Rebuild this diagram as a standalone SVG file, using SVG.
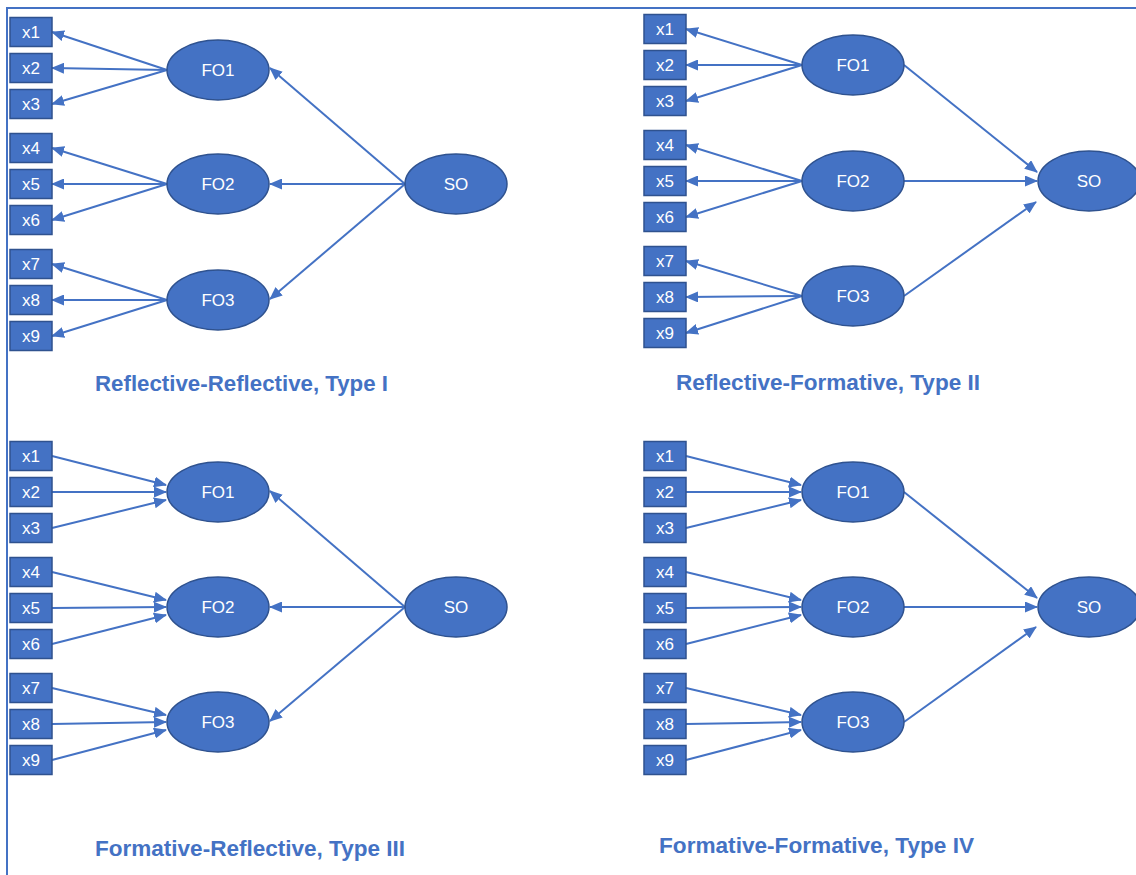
<svg xmlns="http://www.w3.org/2000/svg" width="1136" height="875" viewBox="0 0 1136 875">
  <style>
    .ind { fill: #4472C4; stroke: #2F528F; stroke-width: 1.5; }
    .lat { fill: #4472C4; stroke: #2F528F; stroke-width: 1.5; }
    .lbl { font-family: "Liberation Sans", Arial, sans-serif; font-size: 17px; fill: #FFFFFF; text-anchor: middle; }
    .conn line { stroke: #4472C4; stroke-width: 2; marker-end: url(#arr); }
    .title { font-family: "Liberation Sans", Arial, sans-serif; font-weight: bold; font-size: 22.5px; fill: #4472C4; }
    .frame { stroke: #4472C4; stroke-width: 2; fill: none; }
  </style>
  <defs>
    <marker id="arr" markerUnits="userSpaceOnUse" markerWidth="13" markerHeight="11" viewBox="0 0 13 11" refX="12" refY="5.5" orient="auto">
      <path d="M0,0 L13,5.5 L0,11 z" fill="#4472C4"/>
    </marker>
  </defs>
  <rect width="1136" height="875" fill="#FFFFFF"/>
  <!-- outer frame: top and left edges -->
  <polyline class="frame" points="7,875 7,8 1136,8"/>

  <!-- ===== Connectors ===== -->
  <g id="connectors" class="conn">
    <!-- Type I: FO -> indicators -->
    <line x1="167" y1="70" x2="52" y2="32"/>
    <line x1="167" y1="70" x2="52" y2="68"/>
    <line x1="167" y1="70" x2="52" y2="104"/>
    <line x1="167" y1="184" x2="52" y2="148"/>
    <line x1="167" y1="184" x2="52" y2="184"/>
    <line x1="167" y1="184" x2="52" y2="220"/>
    <line x1="167" y1="300" x2="52" y2="264"/>
    <line x1="167" y1="300" x2="52" y2="300"/>
    <line x1="167" y1="300" x2="52" y2="336"/>
    <!-- Type I: SO -> FO -->
    <line x1="405" y1="184" x2="270" y2="68"/>
    <line x1="405" y1="184" x2="270" y2="184"/>
    <line x1="405" y1="184" x2="270" y2="299"/>

    <!-- Type II: FO -> indicators -->
    <line x1="802" y1="65" x2="686" y2="29"/>
    <line x1="802" y1="65" x2="686" y2="65"/>
    <line x1="802" y1="65" x2="686" y2="101"/>
    <line x1="802" y1="181" x2="686" y2="145"/>
    <line x1="802" y1="181" x2="686" y2="181"/>
    <line x1="802" y1="181" x2="686" y2="217"/>
    <line x1="802" y1="296" x2="686" y2="261"/>
    <line x1="802" y1="296" x2="686" y2="297"/>
    <line x1="802" y1="296" x2="686" y2="333"/>
    <!-- Type II: FO -> SO -->
    <line x1="904" y1="65" x2="1037" y2="172"/>
    <line x1="904" y1="181" x2="1037" y2="181"/>
    <line x1="904" y1="296" x2="1036" y2="202"/>

    <!-- Type III: indicators -> FO -->
    <line x1="52" y1="456" x2="166" y2="485"/>
    <line x1="52" y1="492" x2="166" y2="492"/>
    <line x1="52" y1="528" x2="166" y2="500"/>
    <line x1="52" y1="572" x2="166" y2="600"/>
    <line x1="52" y1="608" x2="166" y2="607"/>
    <line x1="52" y1="644" x2="166" y2="615"/>
    <line x1="52" y1="688" x2="166" y2="715"/>
    <line x1="52" y1="724" x2="166" y2="722"/>
    <line x1="52" y1="760" x2="166" y2="730"/>
    <!-- Type III: SO -> FO -->
    <line x1="405" y1="607" x2="270" y2="491"/>
    <line x1="405" y1="607" x2="270" y2="607"/>
    <line x1="405" y1="607" x2="270" y2="721"/>

    <!-- Type IV: indicators -> FO -->
    <line x1="686" y1="456" x2="801" y2="485"/>
    <line x1="686" y1="492" x2="801" y2="492"/>
    <line x1="686" y1="528" x2="801" y2="500"/>
    <line x1="686" y1="572" x2="801" y2="600"/>
    <line x1="686" y1="608" x2="801" y2="607"/>
    <line x1="686" y1="644" x2="801" y2="615"/>
    <line x1="686" y1="688" x2="801" y2="715"/>
    <line x1="686" y1="724" x2="801" y2="722"/>
    <line x1="686" y1="760" x2="801" y2="730"/>
    <!-- Type IV: FO -> SO -->
    <line x1="904" y1="492" x2="1037" y2="598"/>
    <line x1="904" y1="607" x2="1037" y2="607"/>
    <line x1="904" y1="722" x2="1036" y2="627"/>
  </g>

  <!-- ===== Type I nodes ===== -->
  <g id="t1-x1"><rect class="ind" x="10" y="17.5" width="42" height="29"/><text class="lbl" x="31" y="38">x1</text></g>
  <g id="t1-x2"><rect class="ind" x="10" y="53.5" width="42" height="29"/><text class="lbl" x="31" y="74">x2</text></g>
  <g id="t1-x3"><rect class="ind" x="10" y="89.5" width="42" height="29"/><text class="lbl" x="31" y="110">x3</text></g>
  <g id="t1-x4"><rect class="ind" x="10" y="133.5" width="42" height="29"/><text class="lbl" x="31" y="154">x4</text></g>
  <g id="t1-x5"><rect class="ind" x="10" y="169.5" width="42" height="29"/><text class="lbl" x="31" y="190">x5</text></g>
  <g id="t1-x6"><rect class="ind" x="10" y="205.5" width="42" height="29"/><text class="lbl" x="31" y="226">x6</text></g>
  <g id="t1-x7"><rect class="ind" x="10" y="249.5" width="42" height="29"/><text class="lbl" x="31" y="270">x7</text></g>
  <g id="t1-x8"><rect class="ind" x="10" y="285.5" width="42" height="29"/><text class="lbl" x="31" y="306">x8</text></g>
  <g id="t1-x9"><rect class="ind" x="10" y="321.5" width="42" height="29"/><text class="lbl" x="31" y="342">x9</text></g>
  <g id="t1-fo1"><ellipse class="lat" cx="218" cy="70" rx="51" ry="30"/><text class="lbl" x="218" y="76">FO1</text></g>
  <g id="t1-fo2"><ellipse class="lat" cx="218" cy="184" rx="51" ry="30"/><text class="lbl" x="218" y="190">FO2</text></g>
  <g id="t1-fo3"><ellipse class="lat" cx="218" cy="300" rx="51" ry="30"/><text class="lbl" x="218" y="306">FO3</text></g>
  <g id="t1-so"><ellipse class="lat" cx="456" cy="184" rx="51" ry="30"/><text class="lbl" x="456" y="190">SO</text></g>
  <text class="title" x="95" y="391" textLength="293" lengthAdjust="spacingAndGlyphs">Reflective-Reflective, Type I</text>

  <!-- ===== Type II nodes ===== -->
  <g id="t2-x1"><rect class="ind" x="644" y="14.5" width="42" height="29"/><text class="lbl" x="665" y="35">x1</text></g>
  <g id="t2-x2"><rect class="ind" x="644" y="50.5" width="42" height="29"/><text class="lbl" x="665" y="71">x2</text></g>
  <g id="t2-x3"><rect class="ind" x="644" y="86.5" width="42" height="29"/><text class="lbl" x="665" y="107">x3</text></g>
  <g id="t2-x4"><rect class="ind" x="644" y="130.5" width="42" height="29"/><text class="lbl" x="665" y="151">x4</text></g>
  <g id="t2-x5"><rect class="ind" x="644" y="166.5" width="42" height="29"/><text class="lbl" x="665" y="187">x5</text></g>
  <g id="t2-x6"><rect class="ind" x="644" y="202.5" width="42" height="29"/><text class="lbl" x="665" y="223">x6</text></g>
  <g id="t2-x7"><rect class="ind" x="644" y="246.5" width="42" height="29"/><text class="lbl" x="665" y="267">x7</text></g>
  <g id="t2-x8"><rect class="ind" x="644" y="282.5" width="42" height="29"/><text class="lbl" x="665" y="303">x8</text></g>
  <g id="t2-x9"><rect class="ind" x="644" y="318.5" width="42" height="29"/><text class="lbl" x="665" y="339">x9</text></g>
  <g id="t2-fo1"><ellipse class="lat" cx="853" cy="65" rx="51" ry="30"/><text class="lbl" x="853" y="71">FO1</text></g>
  <g id="t2-fo2"><ellipse class="lat" cx="853" cy="181" rx="51" ry="30"/><text class="lbl" x="853" y="187">FO2</text></g>
  <g id="t2-fo3"><ellipse class="lat" cx="853" cy="296" rx="51" ry="30"/><text class="lbl" x="853" y="302">FO3</text></g>
  <g id="t2-so"><ellipse class="lat" cx="1089" cy="181" rx="51" ry="30"/><text class="lbl" x="1089" y="187">SO</text></g>
  <text class="title" x="676" y="390" textLength="304" lengthAdjust="spacingAndGlyphs">Reflective-Formative, Type II</text>

  <!-- ===== Type III nodes ===== -->
  <g id="t3-x1"><rect class="ind" x="10" y="441.5" width="42" height="29"/><text class="lbl" x="31" y="462">x1</text></g>
  <g id="t3-x2"><rect class="ind" x="10" y="477.5" width="42" height="29"/><text class="lbl" x="31" y="498">x2</text></g>
  <g id="t3-x3"><rect class="ind" x="10" y="513.5" width="42" height="29"/><text class="lbl" x="31" y="534">x3</text></g>
  <g id="t3-x4"><rect class="ind" x="10" y="557.5" width="42" height="29"/><text class="lbl" x="31" y="578">x4</text></g>
  <g id="t3-x5"><rect class="ind" x="10" y="593.5" width="42" height="29"/><text class="lbl" x="31" y="614">x5</text></g>
  <g id="t3-x6"><rect class="ind" x="10" y="629.5" width="42" height="29"/><text class="lbl" x="31" y="650">x6</text></g>
  <g id="t3-x7"><rect class="ind" x="10" y="673.5" width="42" height="29"/><text class="lbl" x="31" y="694">x7</text></g>
  <g id="t3-x8"><rect class="ind" x="10" y="709.5" width="42" height="29"/><text class="lbl" x="31" y="730">x8</text></g>
  <g id="t3-x9"><rect class="ind" x="10" y="745.5" width="42" height="29"/><text class="lbl" x="31" y="766">x9</text></g>
  <g id="t3-fo1"><ellipse class="lat" cx="218" cy="492" rx="51" ry="30"/><text class="lbl" x="218" y="498">FO1</text></g>
  <g id="t3-fo2"><ellipse class="lat" cx="218" cy="607" rx="51" ry="30"/><text class="lbl" x="218" y="613">FO2</text></g>
  <g id="t3-fo3"><ellipse class="lat" cx="218" cy="722" rx="51" ry="30"/><text class="lbl" x="218" y="728">FO3</text></g>
  <g id="t3-so"><ellipse class="lat" cx="456" cy="607" rx="51" ry="30"/><text class="lbl" x="456" y="613">SO</text></g>
  <text class="title" x="95" y="856" textLength="310" lengthAdjust="spacingAndGlyphs">Formative-Reflective, Type III</text>

  <!-- ===== Type IV nodes ===== -->
  <g id="t4-x1"><rect class="ind" x="644" y="441.5" width="42" height="29"/><text class="lbl" x="665" y="462">x1</text></g>
  <g id="t4-x2"><rect class="ind" x="644" y="477.5" width="42" height="29"/><text class="lbl" x="665" y="498">x2</text></g>
  <g id="t4-x3"><rect class="ind" x="644" y="513.5" width="42" height="29"/><text class="lbl" x="665" y="534">x3</text></g>
  <g id="t4-x4"><rect class="ind" x="644" y="557.5" width="42" height="29"/><text class="lbl" x="665" y="578">x4</text></g>
  <g id="t4-x5"><rect class="ind" x="644" y="593.5" width="42" height="29"/><text class="lbl" x="665" y="614">x5</text></g>
  <g id="t4-x6"><rect class="ind" x="644" y="629.5" width="42" height="29"/><text class="lbl" x="665" y="650">x6</text></g>
  <g id="t4-x7"><rect class="ind" x="644" y="673.5" width="42" height="29"/><text class="lbl" x="665" y="694">x7</text></g>
  <g id="t4-x8"><rect class="ind" x="644" y="709.5" width="42" height="29"/><text class="lbl" x="665" y="730">x8</text></g>
  <g id="t4-x9"><rect class="ind" x="644" y="745.5" width="42" height="29"/><text class="lbl" x="665" y="766">x9</text></g>
  <g id="t4-fo1"><ellipse class="lat" cx="853" cy="492" rx="51" ry="30"/><text class="lbl" x="853" y="498">FO1</text></g>
  <g id="t4-fo2"><ellipse class="lat" cx="853" cy="607" rx="51" ry="30"/><text class="lbl" x="853" y="613">FO2</text></g>
  <g id="t4-fo3"><ellipse class="lat" cx="853" cy="722" rx="51" ry="30"/><text class="lbl" x="853" y="728">FO3</text></g>
  <g id="t4-so"><ellipse class="lat" cx="1089" cy="607" rx="51" ry="30"/><text class="lbl" x="1089" y="613">SO</text></g>
  <text class="title" x="659" y="853" textLength="315" lengthAdjust="spacingAndGlyphs">Formative-Formative, Type IV</text>
</svg>
